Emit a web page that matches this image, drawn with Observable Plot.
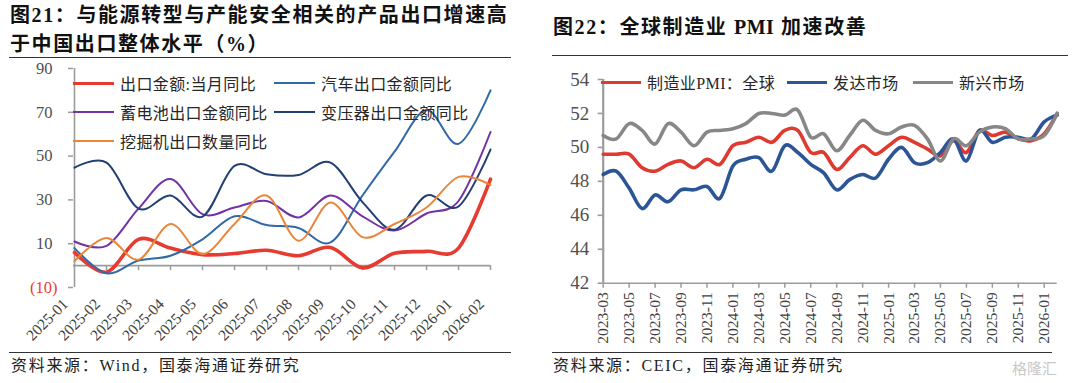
<!DOCTYPE html>
<html><head><meta charset="utf-8">
<script src="https://cdn.jsdelivr.net/npm/d3@7"></script>
<script src="https://cdn.jsdelivr.net/npm/@observablehq/plot@0.6"></script>
<style>
html,body{margin:0;padding:0;background:#fff;}
body{width:1080px;height:383px;overflow:hidden;position:relative;font-family:"Liberation Serif","Noto Sans CJK SC",serif;color:#222;}
.abs{position:absolute;white-space:nowrap;}
.title{font-weight:bold;font-size:20px;letter-spacing:1.6px;line-height:29px;color:#111;}
.rule{position:absolute;height:0;border-top:1.6px solid #333;}
.src{font-size:16px;letter-spacing:1.7px;line-height:20px;color:#222;}
.leg{position:absolute;display:flex;align-items:center;height:20px;font-size:16px;letter-spacing:0.4px;color:#262626;white-space:nowrap;}
.sw{display:inline-block;height:0;margin-right:6px;}
.plot{position:absolute;}
</style></head><body>

<div class="abs title" style="left:10px;top:1px;">图21：与能源转型与产能安全相关的产品出口增速高<br>于中国出口整体水平（%）</div>
<div class="rule" style="left:9px;top:57px;width:502px;"></div>
<div class="rule" style="left:9px;top:352px;width:502px;"></div>
<div class="abs src" style="left:11px;top:356px;">资料来源：Wind，国泰海通证券研究</div>

<div class="abs title" style="left:553px;top:13px;">图22：全球制造业 <span style="letter-spacing:0.5px">PMI</span> 加速改善</div>
<div class="rule" style="left:552px;top:55px;width:516px;"></div>
<div class="rule" style="left:552px;top:352px;width:500px;"></div>
<div class="abs src" style="left:553px;top:356px;">资料来源：CEIC，国泰海通证券研究</div>
<div class="abs" style="left:1012px;top:357px;font-size:15px;color:#c8c8c8;font-family:'Noto Sans CJK SC';">格隆汇</div>

<div id="left" class="plot" style="left:0;top:60px;"></div>
<div id="right" class="plot" style="left:540px;top:62px;"></div>
<div id="legends"></div>

<script>
// ---------- Figure 21 data ----------
const months = ["2025-01","2025-02","2025-03","2025-04","2025-05","2025-06","2025-07","2025-08","2025-09","2025-10","2025-11","2025-12","2026-01","2026-02"];
const exportYoY      = [6, -3, 12, 8, 5, 5.5, 7, 4.5, 8.3, -1, 5.6, 6.5, 8, 39.5];
const carYoY         = [8, -3.5, 2.3, 4.5, 12, 22.5, 18.5, 17.2, 10.6, 32, 52, 71, 55.6, 80];
const batteryYoY     = [11, 9, 26, 39.5, 23.5, 26.5, 29.5, 22, 32, 22.5, 16, 23.8, 29.5, 61];
const transformerYoY = [44.7, 47, 26, 32, 22.4, 45.5, 41.7, 41.4, 47, 29, 16.4, 32, 27, 53];
const excavatorYoY   = [2, 12.6, 2.7, 19, 5.3, 19, 32, 11.4, 28.8, 13, 19, 26.5, 40.5, 36.8];
const leftNames = ["出口金额:当月同比","汽车出口金额同比","蓄电池出口金额同比","变压器出口金额同比","挖掘机出口数量同比"];
const leftValues = [exportYoY, carYoY, batteryYoY, transformerYoY, excavatorYoY];
const leftYTicks = [10, 30, 50, 70, 90];
const leftYTicksNeg = [-10];

// ---------- Figure 22 data ----------
const pmiMonths = ["2023-03","2023-04","2023-05","2023-06","2023-07","2023-08","2023-09","2023-10","2023-11","2023-12",
  "2024-01","2024-02","2024-03","2024-04","2024-05","2024-06","2024-07","2024-08","2024-09","2024-10","2024-11","2024-12",
  "2025-01","2025-02","2025-03","2025-04","2025-05","2025-06","2025-07","2025-08","2025-09","2025-10","2025-11","2025-12",
  "2026-01","2026-02"];
const globalPMI    = [49.6,49.6,49.6,48.8,48.6,49.0,49.2,48.8,49.3,49.0,50.1,50.3,50.6,50.3,51.0,51.0,49.7,49.7,48.7,49.4,50.1,49.6,50.1,50.6,50.3,49.9,49.5,50.4,49.7,51.0,50.7,50.9,50.5,50.4,50.8,52.0];
const developedPMI = [48.4,48.6,47.6,46.4,47.2,46.8,47.5,47.5,47.7,47.0,48.9,49.3,49.4,48.6,50.1,49.7,49.0,48.5,47.5,48.1,48.4,48.2,49.3,50.0,49.1,49.1,49.7,50.5,49.2,51.0,50.3,50.6,50.6,50.5,51.5,51.9];
const emergingPMI  = [50.7,50.5,51.4,51.0,50.2,51.4,50.9,50.1,50.9,51.0,51.1,51.4,52.0,52.0,51.9,52.2,50.6,50.8,49.8,50.7,51.6,51.0,50.8,51.2,51.3,50.5,49.2,50.5,50.1,50.9,51.2,51.1,50.5,50.5,50.7,52.0];
const rightNames = ["制造业PMI：全球","发达市场","新兴市场"];
const rightValues = [globalPMI, developedPMI, emergingPMI];
const rightYTicks = [42, 44, 46, 48, 50, 52, 54];

// ---------- styles ----------
const leftStyles = [
  {color:"#E53B30", width:3.6},
  {color:"#2F69A8", width:2},
  {color:"#7332A6", width:2},
  {color:"#243F73", width:2},
  {color:"#E8873C", width:2}
];
const rightStyles = [
  {color:"#E03A30", width:3.6},
  {color:"#2B5597", width:3.6},
  {color:"#878787", width:3.6}
];
const fontStack = '"Liberation Serif","Noto Sans CJK SC",serif';

// ---------- left chart ----------
const leftRows = leftNames.map((n, s) => months.map((m, i) => ({series: n, month: m, value: leftValues[s][i]})));
const leftLines = leftRows.map((rows, s) =>
  Plot.line(rows, {x: "month", y: "value", stroke: leftStyles[s].color, strokeWidth: leftStyles[s].width, curve: "cardinal"}));
const left = Plot.plot({
  width: 540, height: 292,
  marginLeft: 73, marginRight: 50, marginTop: 8, marginBottom: 65,
  x: {type: "point", domain: months, padding: 0},
  y: {domain: [-10, 90]},
  style: {fontFamily: fontStack, fontSize: "16px", color: "#404040", background: "transparent", overflow: "visible"},
  marks: [
    Plot.ruleX([months[0]], {stroke: "#9b9b9b", strokeWidth: 1.6}),
    Plot.ruleY([0], {stroke: "#9b9b9b", strokeWidth: 1.6}),
    Plot.ruleX(months.slice(1), {x: d => d, y1: 0, y2: 0, insetBottom: -5, stroke: "#9b9b9b", strokeWidth: 1.5}),
    Plot.axisY({ticks: leftYTicks, tickSize: 5, tickPadding: 16, stroke: "#9b9b9b", strokeWidth: 1.5, fill: "#505050", label: null, fontSize: 16.5}),
    Plot.axisY({ticks: leftYTicksNeg, tickSize: 5, tickPadding: 11, stroke: "#9b9b9b", strokeWidth: 1.5, fill: "#ee3b36", tickFormat: d => `(${Math.abs(d)})`, label: null, fontSize: 16.5}),
    Plot.axisX({tickRotate: -45, tickSize: 0, tickPadding: 14, label: null, fill: "#404040", fontSize: 15.5, dx: -9}),
    ...leftLines
  ]
});
document.getElementById("left").appendChild(left);

// ---------- right chart ----------
const rightRows = rightNames.map((n, s) => pmiMonths.map((m, i) => ({series: n, month: m, value: rightValues[s][i]})));
const rightLines = rightRows.map((rows, s) =>
  Plot.line(rows, {x: "month", y: "value", stroke: rightStyles[s].color, strokeWidth: rightStyles[s].width, curve: "cardinal"}));
const right = Plot.plot({
  width: 540, height: 290,
  marginLeft: 62.7, marginRight: 23.3, marginTop: 17, marginBottom: 69.3,
  x: {type: "point", domain: pmiMonths, padding: 0},
  y: {domain: [42, 54]},
  style: {fontFamily: fontStack, fontSize: "15px", color: "#404040", background: "transparent", overflow: "visible"},
  marks: [
    Plot.ruleX([pmiMonths[0]], {stroke: "#9b9b9b", strokeWidth: 2.2}),
    Plot.ruleY([42], {stroke: "#9b9b9b", strokeWidth: 1.6}),
    Plot.axisY({ticks: rightYTicks, tickSize: 5, tickPadding: 9, stroke: "#9b9b9b", strokeWidth: 1.6, fill: "#505050", label: null, fontSize: 19, letterSpacing: 2.5}),
    Plot.axisX({ticks: pmiMonths.filter((d, i) => i % 2 === 0), tickRotate: -90, tickSize: 5, tickPadding: 4, stroke: "#9b9b9b", strokeWidth: 1.5, label: null, fill: "#404040", fontSize: 15.5}),
    ...rightLines
  ]
});
document.getElementById("right").appendChild(right);

// ---------- legends (HTML, from names and styles) ----------
const legendSpots = [
  {left: 73, top: 73, sw: 41}, {left: 274, top: 73, sw: 41},
  {left: 73, top: 102, sw: 41}, {left: 274, top: 102, sw: 41},
  {left: 73, top: 131, sw: 41}
];
const rightSpots = [{left: 601, top: 72, sw: 40}, {left: 787, top: 72, sw: 40}, {left: 913, top: 72, sw: 40}];
const lg = document.getElementById("legends");
function addLegend(names, styles, spots) {
  names.forEach((n, i) => {
    const d = document.createElement("div");
    d.className = "leg";
    d.style.left = spots[i].left + "px";
    d.style.top = spots[i].top + "px";
    const s = document.createElement("span");
    s.className = "sw";
    s.style.width = spots[i].sw + "px";
    s.style.borderTop = `${styles[i].width}px solid ${styles[i].color}`;
    d.appendChild(s);
    const t = document.createElement("span");
    t.textContent = n;
    d.appendChild(t);
    lg.appendChild(d);
  });
}
addLegend(leftNames, leftStyles, legendSpots);
addLegend(rightNames, rightStyles, rightSpots);
</script>
</body></html>
